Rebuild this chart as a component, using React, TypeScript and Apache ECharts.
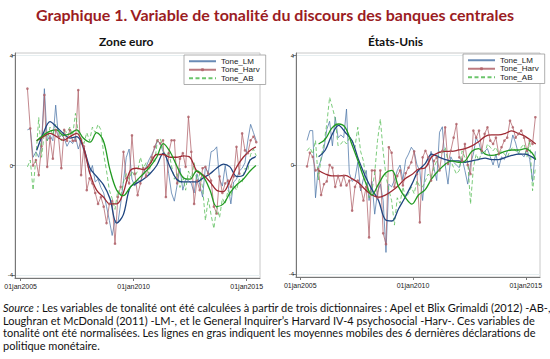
import React, { useEffect, useRef } from "react";
import * as echarts from "echarts";

// Dates of the policy statements (decimal years), shared by both panels
const statementDates = [
  2005.300, 2005.425, 2005.550, 2005.675, 2005.800, 2005.925,
  2006.050, 2006.175, 2006.300, 2006.425, 2006.550, 2006.675, 2006.800, 2006.925,
  2007.050, 2007.175, 2007.300, 2007.425, 2007.550, 2007.675, 2007.800, 2007.925,
  2008.050, 2008.175, 2008.300, 2008.425, 2008.550, 2008.675, 2008.800, 2008.925,
  2009.050, 2009.175, 2009.300, 2009.425, 2009.550, 2009.675, 2009.800, 2009.925,
  2010.050, 2010.175, 2010.300, 2010.425, 2010.550, 2010.675, 2010.800, 2010.925,
  2011.050, 2011.175, 2011.300, 2011.425, 2011.550, 2011.675, 2011.800, 2011.925,
  2012.050, 2012.175, 2012.300, 2012.425, 2012.550, 2012.675, 2012.800, 2012.925,
  2013.050, 2013.175, 2013.300, 2013.425, 2013.550, 2013.675, 2013.800, 2013.925,
  2014.050, 2014.175, 2014.300, 2014.425, 2014.550, 2014.675, 2014.800, 2014.925,
  2015.050, 2015.175, 2015.300, 2015.425,
];

// Zone euro – raw tone series
const euroLM = [
  1.3, 1.35, 0.3, 0.5, 0.3, 0.8, 2.8, 0.9, 1.1, 0.9,
  2.2, 1.0, 1.1, 1.0, 0.7, 0.9, 0.8, 1.05, 0.6, 0.9,
  0.5, 0.2, -0.3, 0.0, -0.6, -0.5, -0.8, -1.0, -1.5, -2.0,
  -2.55, -2.0, -2.1, -1.4, -0.55, 0.3, 0.6, -0.5, -0.75, -0.5,
  -0.6, -0.3, -0.05, 0.2, 0.4, 0.6, 0.9, 0.8, 0.5, 0.4,
  -0.3, -1.0, -1.3, -0.7, -0.1, -0.9, -0.5, -0.55, -0.65, -1.0,
  -0.3, -0.7, -1.15, -0.05, -0.3, 0.5, 0.55, 0.68, -0.5, -0.75,
  0.0, -0.7, -1.4, -0.6, -0.5, -0.2, -0.1, 0.1, 0.9, 1.5,
  1.2, 0.9,
];
const euroHarv = [
  2.8, 1.35, 0.0, 0.2, -0.35, 0.7, 2.57, -0.05, 1.0, 0.25,
  1.3, 1.05, -0.1, 1.3, 0.9, 1.3, 0.9, 0.9, 2.75, -0.35,
  0.7, -0.9, -0.47, -0.65, -1.0, -1.4, -1.15, -1.5, -2.1, -1.4,
  -1.3, -2.85, -1.15, -0.78, 0.5, -0.47, -0.65, 1.1, -0.3, -1.08,
  -0.65, -0.1, -0.4, 0.0, 0.3, 0.68, 0.92, 0.8, 0.92, -1.15,
  0.45, 0.92, 0.92, -0.65, 0.25, 0.45, -0.05, 1.77, 0.5, -1.4,
  -0.55, -0.9, -0.1, -0.05, -0.3, -0.55, -1.5, -1.75, -0.4, -1.0,
  -0.65, -0.55, -0.78, -0.4, 0.68, -0.3, 1.17, 0.55, 0.45, 0.92,
  1.05, 0.85,
];
const euroAB = [
  -0.05, 0.2, -0.9, 0.3, 1.75, 0.3, 1.2, 0.9, 1.4, 1.1,
  1.5, 1.3, 0.9, 1.3, 1.2, 1.4, 1.1, 1.9, 1.2, 1.0,
  0.8, 1.2, 0.9, 1.4, 1.2, 1.5, 1.3, 0.4, -0.2, -0.9,
  -1.2, -1.6, -0.9, -1.1, -0.6, -0.3, -0.5, -0.2, -0.4, -0.2,
  0.3, -0.1, 0.1, -0.3, 0.3, 0.1, 0.9, 1.0, 0.6, 0.3,
  0.5, 0.0, -0.5, -0.3, -0.8, -0.4, -0.9, -0.2, -0.5, 0.1,
  -0.6, -0.3, -0.8, -2.0, -1.2, -1.8, -2.3, -1.5, -1.9, -1.2,
  -1.4, -0.9, -1.1, -0.7, -0.9, -0.5, -0.6, -0.1, -0.2, 0.4,
  0.6, 0.35,
];

// Zone euro – moving averages (bold lines)
const euroMaDates = [
  2005.71, 2006.00, 2006.30, 2006.59, 2006.89, 2007.18, 2007.48, 2007.77, 2008.07, 2008.36,
  2008.66, 2008.95, 2009.25, 2009.54, 2009.84, 2010.13, 2010.43, 2010.72, 2011.02, 2011.31,
  2011.61, 2011.90, 2012.20, 2012.49, 2012.79, 2013.08, 2013.38, 2013.67, 2013.97, 2014.26,
  2014.56, 2014.85, 2015.15, 2015.41,
];
const euroMaLM = [
  0.55, 1.17, 1.6, 1.4, 1.17, 1.0, 1.05, 0.68, -0.1, -0.4,
  -0.7, -1.2, -2.1, -1.8, -0.8, -0.65, -0.5, -0.3, 0.0, 0.45,
  -0.05, -0.5, -0.6, -0.6, -0.6, -0.45, -0.3, -0.1, 0.05, -0.05,
  -0.4, -0.35, 0.2, 0.32,
];
const euroMaHarv = [
  0.9, 1.05, 1.17, 1.05, 0.92, 1.05, 1.17, 0.7, -0.3, -0.9,
  -1.15, -1.4, -1.4, -1.0, -0.2, -0.1, -0.15, 0.05, 0.4, 0.4,
  0.3, 0.3, 0.35, 0.3, -0.2, -0.35, -0.6, -0.9, -0.95, -0.55,
  -0.05, 0.3, 0.55, 0.68,
];
const euroMaAB = [
  0.9, 1.1, 1.25, 1.3, 1.1, 1.15, 1.3, 1.0, 0.85, 1.2,
  0.9, -0.15, -0.9, -1.1, -0.8, -0.55, -0.3, -0.05, 0.3, 0.8,
  0.5, 0.0, -0.45, -0.5, -0.2, -0.4, -0.9, -1.5, -1.4, -1.0,
  -0.7, -0.5, -0.2, 0.0,
];

// États-Unis – raw tone series
const usLM = [
  0.9, 1.26, 1.26, -1.2, -0.1, 0.2, 0.6, 1.3, 1.6, 0.7,
  1.75, 1.0, 1.1, 1.0, 2.05, -0.3, -0.6, -0.5, 0.1, -0.95,
  -0.5, -0.2, -1.3, -0.6, -1.8, -1.0, -0.7, -1.3, -3.2, -0.7,
  -0.8, -0.55, -0.2, 0.0, -0.55, 0.2, 0.4, 0.65, 0.5, 0.0,
  -0.2, -1.3, -0.1, 0.0, 0.5, -0.1, -0.57, 1.2, 1.4, 0.0,
  -0.7, 0.3, 0.1, 0.0, -0.1, 0.25, -0.2, -0.7, 0.05, 0.4,
  1.0, 0.8, 0.4, 0.5, 0.6, 0.3, 0.0, 0.4, -0.1, 0.3,
  0.2, 0.5, 0.6, 1.1, 0.8, 0.4, 0.4, 0.3, 0.6, 0.2,
  -0.6, 0.5,
];
const usHarv = [
  -0.05, 0.45, 0.3, -0.2, -0.15, -1.1, -0.7, -0.6, 0.0, -0.1,
  -0.8, -0.4, -0.75, -0.4, -0.75, -0.57, -1.67, -0.8, -0.57, -0.8,
  -1.3, -0.8, -2.65, -0.2, -0.2, -1.2, -0.2, -2.5, -2.9, 0.65,
  0.45, -0.8, -0.4, -0.2, -0.75, -0.3, -0.1, 0.1, 0.5, -0.33,
  -2.1, 0.28, 0.52, 0.28, -0.57, 0.15, 0.28, -0.2, 0.52, 1.38,
  0.04, 0.52, 1.0, 1.5, 0.28, 0.15, 0.77, 0.0, -0.33, 1.26,
  1.0, 1.26, 0.52, 1.14, 1.38, 0.89, 0.77, 1.0, 0.4, 0.65,
  0.89, 1.0, 1.62, 1.38, 1.0, 1.14, 1.26, 1.0, 0.52, 0.89,
  0.77, 1.75,
];
const usAB = [
  0.52, 0.65, 0.4, 0.9, -0.55, 0.28, 0.8, 1.5, 2.48, 2.1,
  1.7, 0.7, 0.77, 0.9, 0.77, 1.0, 0.9, 0.65, 1.38, 0.5,
  0.15, -0.6, -1.2, -0.95, -0.3, 0.9, 1.68, 0.5, -0.4, -0.9,
  -1.3, -2.2, -1.2, -1.4, -0.8, -1.2, -1.05, -0.8, -1.05, -0.57,
  -0.8, -0.8, -0.57, -0.33, -0.45, -0.1, 0.15, 0.5, 0.4, 0.65,
  0.15, 0.15, -0.1, -0.33, -0.2, 0.52, 0.28, 0.15, -1.43, -0.1,
  0.4, 0.15, 0.52, 0.4, 0.77, 0.65, 0.52, 0.65, 0.4, 0.52,
  0.4, 0.28, 0.52, 0.65, 0.52, 0.4, 0.65, 0.77, 0.28, 0.9,
  -0.94, -0.1,
];

// États-Unis – moving averages (bold lines)
const usMaDates = [
  2005.81, 2006.11, 2006.40, 2006.70, 2006.99, 2007.29, 2007.58, 2007.88, 2008.18, 2008.47,
  2008.77, 2009.06, 2009.36, 2009.65, 2009.95, 2010.24, 2010.54, 2010.83, 2011.13, 2011.43,
  2011.72, 2012.02, 2012.31, 2012.61, 2012.90, 2013.20, 2013.49, 2013.79, 2014.08, 2014.38,
  2014.68, 2014.97, 2015.27, 2015.44,
];
const usMaLM = [
  0.3, 0.55, 1.1, 1.45, 1.2, 0.9, 0.2, -0.4, -0.9, -1.3,
  -2.0, -2.05, -1.6, -1.18, -0.7, -0.2, 0.05, 0.4, 0.3, 0.2,
  0.15, 0.15, 0.1, 0.15, 0.2, 0.25, 0.2, 0.2, 0.27, 0.35,
  0.4, 0.4, 0.3, 0.2,
];
const usMaHarv = [
  -0.2, -0.33, -0.4, -0.4, -0.38, -0.5, -0.65, -0.9, -1.1, -1.18,
  -1.1, -0.95, -0.75, -0.5, -0.35, -0.15, -0.1, 0.3, 0.45, 0.5,
  0.5, 0.55, 0.6, 0.7, 0.85, 1.05, 1.1, 1.1, 1.15, 1.25,
  1.15, 1.05, 0.88, 0.77,
];
const usMaAB = [
  0.77, 0.95, 1.35, 1.5, 1.38, 0.75, 0.1, -0.6, -1.1, -0.7,
  -0.3, -0.2, -0.8, -1.18, -1.43, -1.1, -0.9, -0.5, -0.2, 0.03,
  0.15, 0.1, 0.15, 0.5, 0.6, 0.4, 0.35, 0.4, 0.5, 0.55,
  0.55, 0.6, 0.45, 0.2,
];

const xTickYears = [2005, 2010, 2015];
const yTickValues = [-4, 0, 4];
const seriesNames = ["Tone_LM", "Tone_Harv", "Tone_AB"];
const panelTitles = ["Zone euro", "États-Unis"];
const mainTitle = "Graphique 1. Variable de tonalité du discours des banques centrales";
const captionLines = [
  "{i|Source :} Les variables de tonalité ont été calculées à partir de trois dictionnaires : Apel et Blix Grimaldi (2012) -AB-,",
  "Loughran et McDonald (2011) -LM-, et le General Inquirer’s Harvard IV-4 psychosocial -Harv-. Ces variables de",
  "tonalité ont été normalisées. Les lignes en gras indiquent les moyennes mobiles des 6 dernières déclarations de",
  "politique monétaire.",
];

const C = {
  lm: "#4f77a8",
  lmMa: "#1f4580",
  harv: "#b0636a",
  harvMa: "#9e2a33",
  ab: "#5cbf5c",
  abMa: "#229a22",
};

const pairs = (xs: number[], ys: number[]) => ys.map((v, i) => [xs[i], v]);

function buildSeries(axis: number, lm: number[], harv: number[], ab: number[], maX: number[], maLM: number[], maHarv: number[], maAB: number[]) {
  const base = { type: "line", xAxisIndex: axis, yAxisIndex: axis, animation: false };
  return [
    { ...base, name: seriesNames[0], data: pairs(statementDates, lm), showSymbol: false, symbol: "none",
      lineStyle: { color: C.lm, width: 0.9, opacity: 0.85 }, itemStyle: { color: C.lm } },
    { ...base, name: seriesNames[1], data: pairs(statementDates, harv), showSymbol: true, symbol: "circle", symbolSize: 2.6,
      lineStyle: { color: C.harv, width: 0.9, opacity: 0.85 }, itemStyle: { color: C.harv, opacity: 0.85 } },
    { ...base, name: seriesNames[2], data: pairs(statementDates, ab), showSymbol: false, symbol: "none",
      lineStyle: { color: C.ab, width: 0.9, type: [4, 2.5], opacity: 0.9 }, itemStyle: { color: C.ab } },
    { ...base, name: "MA_LM", data: pairs(maX, maLM), showSymbol: false, smooth: 0.35,
      lineStyle: { color: C.lmMa, width: 1.3 }, itemStyle: { color: C.lmMa } },
    { ...base, name: "MA_Harv", data: pairs(maX, maHarv), showSymbol: false, smooth: 0.35,
      lineStyle: { color: C.harvMa, width: 1.3 }, itemStyle: { color: C.harvMa } },
    { ...base, name: "MA_AB", data: pairs(maX, maAB), showSymbol: false, smooth: 0.35,
      lineStyle: { color: C.abMa, width: 1.3 }, itemStyle: { color: C.abMa } },
  ];
}

function xAxis(gridIndex: number, min: number, max: number) {
  return {
    type: "value", gridIndex, min, max,
    axisLine: { show: true, onZero: false, lineStyle: { color: "#777", width: 1 } },
    axisTick: { show: true, customValues: xTickYears, length: 3, lineStyle: { color: "#777" } },
    axisLabel: { customValues: xTickYears, formatter: (v: number) => "01jan" + Math.round(v), fontSize: 7,
      color: "#222", margin: 5, fontFamily: "Liberation Sans" },
    splitLine: { show: false },
  };
}
function yAxis(gridIndex: number) {
  return {
    type: "value", gridIndex, min: -4.1, max: 4.1,
    axisLine: { show: true, lineStyle: { color: "#777", width: 1 } },
    axisTick: { show: true, customValues: yTickValues, length: 3, lineStyle: { color: "#777" } },
    axisLabel: { customValues: yTickValues, fontSize: 6, color: "#222", margin: 2, fontFamily: "Liberation Sans" },
    splitLine: { show: true, lineStyle: { color: "#e6eef0", width: 1 } },
  };
}
function legend(left: number, top: number) {
  return {
    data: [
      { name: seriesNames[0], itemStyle: { opacity: 0 } },
      { name: seriesNames[1] },
      { name: seriesNames[2], itemStyle: { opacity: 0 } },
    ],
    orient: "vertical", left, top,
    itemWidth: 27, itemHeight: 4, itemGap: 0,
    padding: [2, 6, 2, 4],
    backgroundColor: "#fff", borderColor: "#999", borderWidth: 0.8,
    textStyle: { fontSize: 8, lineHeight: 8.5, color: "#222", fontFamily: "Liberation Sans" },
    selectedMode: false,
  };
}

export default function App() {
  const ref = useRef<HTMLDivElement>(null);
  useEffect(() => {
    document.body.style.margin = "0";
    if (!ref.current) return;
    const chart = echarts.init(ref.current, null, { renderer: "svg" });
    chart.setOption({
      animation: false,
      backgroundColor: "#fff",
      textStyle: { fontFamily: "Lato" },
      title: [
        { text: mainTitle, left: "center", top: 1,
          textStyle: { fontSize: 16, fontWeight: "bold", color: "#9b1c23", fontFamily: "Lato" } },
        { text: panelTitles[0], left: 94, top: 30, textStyle: { fontSize: 12, fontWeight: "bold", color: "#111", fontFamily: "Lato" } },
        { text: panelTitles[1], left: 363, top: 30, textStyle: { fontSize: 12, fontWeight: "bold", color: "#111", fontFamily: "Lato" } },
      ],
      legend: [legend(184, 55), legend(463, 54)],
      grid: [
        { left: 15, right: 290, top: 53, bottom: 81, show: true, borderColor: "#c8c8c8", borderWidth: 1 },
        { left: 296, right: 10, top: 53, bottom: 82, show: true, borderColor: "#c8c8c8", borderWidth: 1 },
      ],
      xAxis: [xAxis(0, 2004.75, 2015.59), xAxis(1, 2004.81, 2015.63)],
      yAxis: [yAxis(0), yAxis(1)],
      series: [
        ...buildSeries(0, euroLM, euroHarv, euroAB, euroMaDates, euroMaLM, euroMaHarv, euroMaAB),
        ...buildSeries(1, usLM, usHarv, usAB, usMaDates, usMaLM, usMaHarv, usMaAB),
      ],
      graphic: captionLines.map((line, i) => ({
        type: "text", left: 3, top: 302 + i * 12.7,
        style: {
          text: line, fill: "#111", fontSize: 11, fontFamily: "Lato",
          rich: { i: { fontStyle: "italic", fontSize: 11, fontFamily: "Lato", fill: "#111" } },
        },
      })),
    });
    return () => chart.dispose();
  }, []);
  return <div ref={ref} style={{ width: 550, height: 359 }} />;
}
